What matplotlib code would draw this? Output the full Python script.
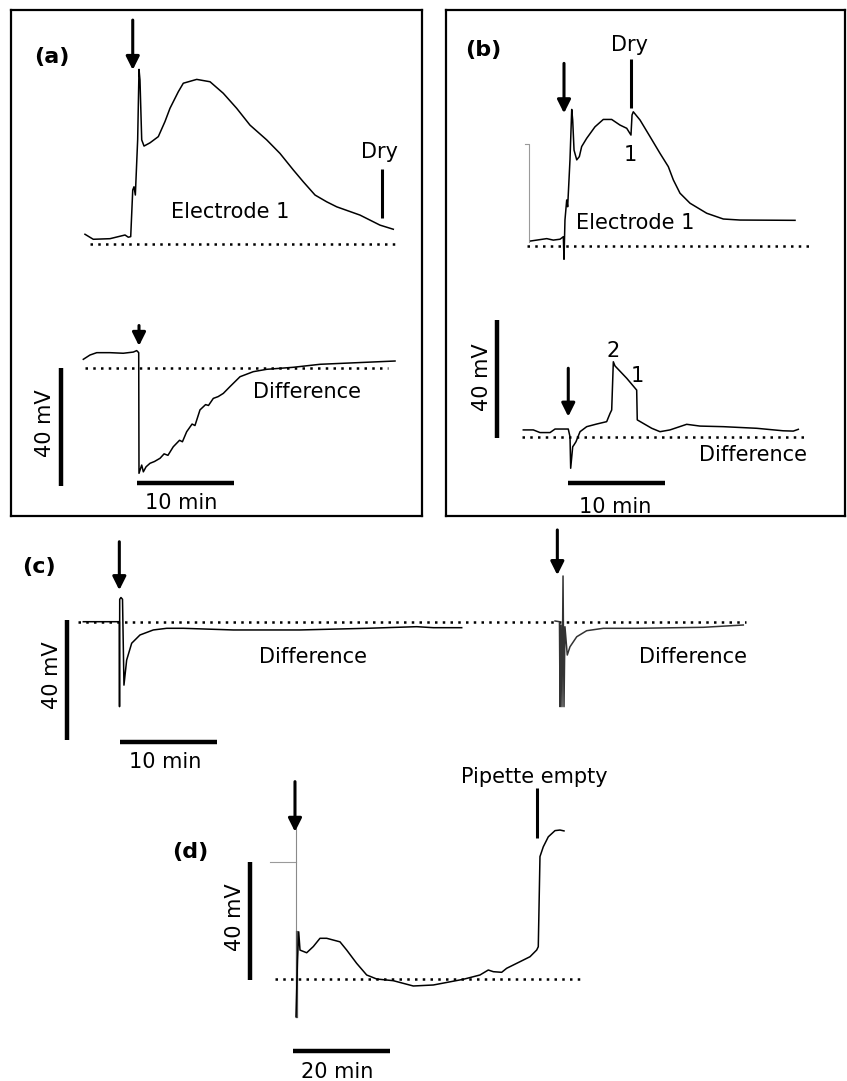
import matplotlib
matplotlib.use('Agg')
import matplotlib.pyplot as plt

# ---- data (time in min, potential in mV) ----
# (a) electrode 1
a1_t = [-4.77, -3.91, -2.18, -0.62, -0.28, -0.03, 0.18, 0.31, 0.45, 0.69, 0.83, 0.93, 1.11, 1.35,
        1.97, 2.83, 3.52, 4.04, 4.90, 5.42, 6.81, 8.19, 9.56, 10.95, 12.33, 14.06, 15.44, 16.82,
        17.85, 19.07, 20.28, 21.32, 23.73, 25.80, 27.18]
a1_v = [3.3, 1.6, 1.8, 3.05, 2.3, 2.5, 18.3, 19.4, 16.6, 35.3, 59.2, 55.6, 35.3, 33.2,
        34.3, 36.4, 41.5, 46.0, 51.6, 54.5, 55.8, 55.0, 51.1, 46.0, 40.3, 35.3, 30.7, 25.1,
        21.1, 16.6, 14.3, 12.6, 9.8, 6.4, 5.0]
# (a) difference
a2_t = [-5.77, -5.08, -4.38, -3.01, -1.63, -0.59, -0.24, -0.03, 0.0, 0.28, 0.45, 0.73, 1.14, 1.6,
        2.18, 2.6, 3.0, 3.55, 4.2, 4.5, 4.94, 5.5, 5.8, 6.32, 6.9, 7.2, 7.70, 8.2, 8.74, 9.43,
        10.47, 11.84, 13.23, 15.99, 18.76, 22.56, 26.53]
a2_v = [3.05, 4.5, 5.3, 5.3, 5.1, 5.5, 6.0, 5.3, -35.6, -32.8, -35.1, -33.4, -32.2, -31.6,
        -30.5, -29.0, -29.5, -26.6, -24.4, -24.9, -21.5, -18.9, -19.4, -14.1, -12.3, -12.6, -10.2,
        -9.6, -8.5, -6.2, -2.85, -1.15, -0.34, 0.34, 1.36, 1.9, 2.47]
# (b) electrode 1
b1_t = [-3.45, -2.83, -1.79, -1.11, -0.41, -0.07, 0.0, 0.10, 0.28, 0.38, 0.62, 0.80, 0.90, 1.04,
        1.32, 1.59, 1.83, 2.35, 3.21, 4.07, 4.94, 5.80, 6.50, 6.94, 7.05, 7.18, 7.88, 8.91, 9.95,
        10.81, 11.33, 12.02, 13.06, 14.79, 16.51, 18.24, 23.94]
b1_v = [1.7, 2.0, 2.5, 2.0, 2.3, 3.15, -4.5, 8.8, 15.6, 13.3, 29.2, 46.3, 42.7, 32.5,
        29.2, 30.3, 33.7, 36.5, 40.4, 42.9, 42.9, 41.0, 39.9, 37.6, 44.4, 45.5, 42.7, 37.1, 31.4,
        26.9, 22.4, 17.9, 14.5, 11.1, 9.15, 8.8, 8.7]
b1_grey_t = [-4.04, -3.60, -3.60]
b1_grey_v = [34.5, 34.5, 1.5]
# (b) difference
b2_t = [-4.84, -3.80, -3.11, -2.07, -1.55, -0.18, 0.0, 0.07, 0.28, 0.41, 0.62, 1.04, 1.73, 2.77,
        3.80, 4.15, 4.32, 4.49, 4.66, 5.88, 6.91, 6.97, 7.60, 8.47, 9.33, 10.36, 12.09, 13.47,
        15.89, 19.35, 22.10, 23.14, 23.66]
b2_v = [2.3, 2.3, 1.4, 1.4, 2.6, 2.6, 0.0, -10.7, -3.4, -2.8, -1.7, 1.7, 3.4, 4.3,
        5.1, 7.9, 9.05, 25.4, 24.0, 19.8, 15.8, 5.7, 4.5, 2.85, 1.7, 2.3, 4.2, 3.6,
        3.4, 2.85, 2.0, 1.9, 2.5]
# (c) difference, first and second application
c1_t = [-3.80, -0.07, -0.05, -0.03, 0.10, 0.26, 0.41, 0.69, 1.21, 2.07, 3.45, 4.84, 6.56, 11.74,
        18.65, 25.56, 30.74, 32.47, 35.41]
c1_v = [0.0, 0.0, -28.8, 7.6, 8.2, 7.6, -21.5, -13.0, -7.3, -4.5, -2.8, -2.24, -2.24, -2.8,
        -2.8, -2.24, -1.69, -2.03, -2.03]
c2_t = [45.08, 45.54, 45.60, 45.70, 45.80, 45.91, 46.01, 46.11, 46.35, 46.63, 47.33, 48.36, 50.08,
        53.54, 60.45, 64.59]
c2_v = [0.24, 0.0, -28.8, -1.1, -28.8, 15.5, -28.8, -1.7, -11.3, -8.5, -5.1, -3.05, -2.24,
        -2.24, -1.9, -1.12]
# (d)
d_t = [0.0, 0.31, 0.56, 0.83, 2.21, 3.58, 4.96, 6.35, 9.10, 10.49, 12.55, 14.62, 16.69, 20.12,
       24.26, 28.40, 34.60, 38.05, 39.77, 40.81, 42.54, 43.57, 46.33, 48.40, 49.78, 50.11, 50.46,
       51.14, 52.18, 53.57, 54.60, 55.43]
d_v = [-12.7, 6.5, 16.1, 9.9, 9.0, 11.1, 13.9, 13.9, 12.7, 9.9, 5.4, 1.46, 0.1, -0.47,
       -2.27, -1.93, 0.0, 1.46, 3.15, 2.58, 2.37, 3.73, 5.97, 7.66, 9.93, 11.05, 41.6,
       44.9, 48.3, 50.4, 50.6, 50.3]
d_grey_t = [-5.38, 0.0]
d_grey_v = [39.9, 39.9]

W, H = 847, 1081
fig = plt.figure(figsize=(W / 100, H / 100), dpi=100)
FS = 15


def box(x0, y0, x1, y1):
    b = fig.add_axes([x0 / W, 1 - y1 / H, (x1 - x0) / W, (y1 - y0) / H])
    b.set_xticks([])
    b.set_yticks([])
    for s in b.spines.values():
        s.set_linewidth(1.6)
    return b


def panel_axes(x0, y0, sx, sy):
    # x0, y0: pixel position of t=0, 0 mV; sx px/min, sy px/mV
    ax = fig.add_axes([0, 0, 1, 1])
    ax.set_xlim(-x0 / sx, (W - x0) / sx)
    ax.set_ylim((y0 - H) / sy, y0 / sy)
    ax.axis('off')
    return ax


def arrow(ax, t, v_top, v_tip):
    ax.annotate('', xy=(t, v_tip), xytext=(t, v_top),
                arrowprops=dict(arrowstyle='-|>', lw=2.2, color='black', mutation_scale=20,
                                shrinkA=0, shrinkB=0))


def dotted(ax, t0, t1):
    ax.plot([t0, t1], [0, 0], color='black', lw=1.8, ls=(0, (1, 2.1)))


def vbar(ax, t, v0, v1, lw=3.2):
    ax.plot([t, t], [v0, v1], color='black', lw=lw, solid_capstyle='butt')


def hbar(ax, t0, t1, v, lw=3.2):
    ax.plot([t0, t1], [v, v], color='black', lw=lw, solid_capstyle='butt')


box(10.7, 10, 422.3, 515.7)
box(445.7, 10, 845, 515.7)

sx, sy = 9.65, 2.95
LW = 1.1

# (a) top
ax = panel_axes(131, 244, sx, sy)
ax.plot(a1_t, a1_v, color='black', lw=LW)
dotted(ax, -4.25, 27.4)
vbar(ax, 26.04, 8.7, 25.3, lw=2.2)
ax.text(25.8, 31.3, 'Dry', fontsize=FS, ha='center', va='center')
ax.text(10.26, 10.95, 'Electrode 1', fontsize=FS, ha='center', va='center')
arrow(ax, 0.18, 75.9, 59.0)
ax.text(-8.22, 63.5, '(a)', fontsize=FS + 1, fontweight='bold', ha='center', va='center')

# (a) bottom
ax = panel_axes(139, 368.3, sx, sy)
ax.plot(a2_t, a2_v, color='black', lw=LW)
dotted(ax, -5.6, 25.8)
arrow(ax, 0.0, 14.5, 7.6)
vbar(ax, -8.08, -40.0, 0.0)
ax.text(-9.7, -18.7, '40 mV', fontsize=FS, rotation=90, ha='center', va='center')
hbar(ax, -0.18, 9.88, -39.0)
ax.text(4.42, -45.8, '10 min', fontsize=FS, ha='center', va='center')
ax.text(17.38, -7.9, 'Difference', fontsize=FS, ha='center', va='center')

# (b) top
ax = panel_axes(564, 246, sx, sy)
ax.plot(b1_grey_t, b1_grey_v, color='#9a9a9a', lw=0.8)
ax.plot(b1_t, b1_v, color='black', lw=LW)
dotted(ax, -3.8, 25.4)
vbar(ax, 6.94, 46.7, 63.3, lw=2.2)
ax.text(6.77, 68.1, 'Dry', fontsize=FS, ha='center', va='center')
ax.text(6.91, 30.8, '1', fontsize=FS, ha='center', va='center')
ax.text(7.36, 7.7, 'Electrode 1', fontsize=FS, ha='center', va='center')
arrow(ax, 0.0, 61.9, 45.0)
ax.text(-8.39, 66.4, '(b)', fontsize=FS + 1, fontweight='bold', ha='center', va='center')

# (b) bottom
ax = panel_axes(570, 436.7, sx, sy)
ax.plot(b2_t, b2_v, color='black', lw=LW)
dotted(ax, -5.0, 24.2)
arrow(ax, -0.18, 23.2, 6.8)
vbar(ax, -7.53, -0.5, 39.5)
ax.text(-9.15, 20.3, '40 mV', fontsize=FS, rotation=90, ha='center', va='center')
ax.text(4.42, 29.2, '2', fontsize=FS, ha='center', va='center')
ax.text(6.97, 20.7, '1', fontsize=FS, ha='center', va='center')
ax.text(18.99, -6.2, 'Difference', fontsize=FS, ha='center', va='center')
hbar(ax, -0.18, 9.84, -15.8)
ax.text(4.66, -23.7, '10 min', fontsize=FS, ha='center', va='center')

# (c)
ax = panel_axes(120, 621.7, sx, sy)
dotted(ax, -4.32, 64.9)
ax.plot(c1_t, c1_v, color='black', lw=LW)
ax.plot(c2_t, c2_v, color='#333333', lw=LW)
arrow(ax, -0.07, 27.1, 10.7)
arrow(ax, 45.32, 31.1, 15.8)
vbar(ax, -5.46, -40.0, 0.5)
ax.text(-7.08, -18.1, '40 mV', fontsize=FS, rotation=90, ha='center', va='center')
hbar(ax, 0.0, 10.02, -40.7)
ax.text(4.66, -47.5, '10 min', fontsize=FS, ha='center', va='center')
ax.text(20.03, -11.9, 'Difference', fontsize=FS, ha='center', va='center')
ax.text(59.41, -11.9, 'Difference', fontsize=FS, ha='center', va='center')
ax.text(-8.36, 18.6, '(c)', fontsize=FS + 1, fontweight='bold', ha='center', va='center')

# (d)
sxd = 4.835
ax = panel_axes(296, 979.3, sxd, sy)
ax.plot(d_grey_t, d_grey_v, color='#9a9a9a', lw=0.8)
ax.plot([0, 0], [51.0, -12.7], color='#8a8a8a', lw=0.8)
ax.plot([0.15, 0.15], [16.0, -12.7], color='#555555', lw=1.6)
ax.plot(d_t, d_v, color='black', lw=LW)
dotted(ax, -4.34, 58.74)
vbar(ax, 49.91, 47.8, 64.7, lw=2.2)
ax.text(49.22, 68.7, 'Pipette empty', fontsize=FS, ha='center', va='center')
arrow(ax, -0.21, 67.0, 50.0)
vbar(ax, -9.51, -0.24, 39.9)
ax.text(-12.62, 21.2, '40 mV', fontsize=FS, rotation=90, ha='center', va='center')
hbar(ax, -0.56, 19.44, -24.3)
ax.text(8.42, -31.3, '20 min', fontsize=FS, ha='center', va='center')
ax.text(-21.78, 43.3, '(d)', fontsize=FS + 1, fontweight='bold', ha='center', va='center')

fig.savefig('out.png', dpi=100)
